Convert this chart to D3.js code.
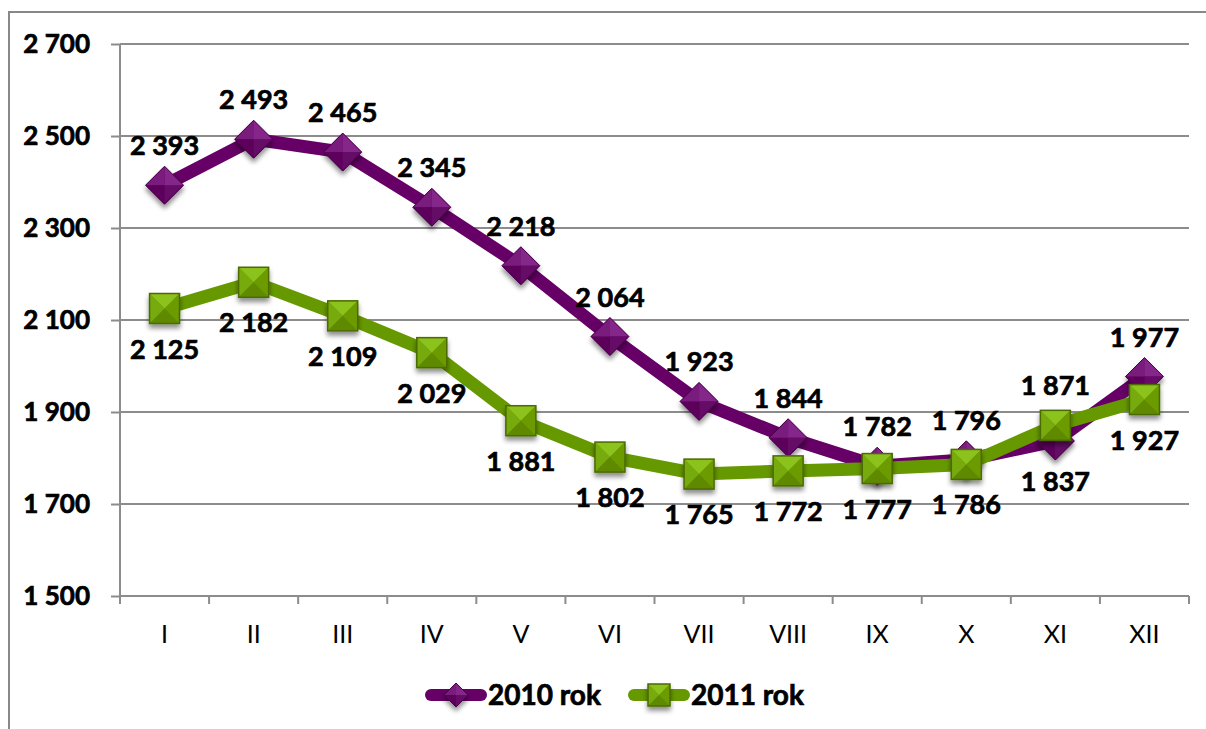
<!DOCTYPE html>
<html><head><meta charset="utf-8">
<script src="https://cdn.jsdelivr.net/npm/d3@7"></script>
<style>
html,body{margin:0;padding:0;background:#fff;}
svg text{font-family:Lato,"Open Sans",sans-serif;}
</style></head>
<body>
<svg id="c" width="1206" height="729"></svg>
<script>
const months = ["I","II","III","IV","V","VI","VII","VIII","IX","X","XI","XII"];
const values2010 = [2393,2493,2465,2345,2218,2064,1923,1844,1782,1796,1837,1977];
const values2011 = [2125,2182,2109,2029,1881,1802,1765,1772,1777,1786,1871,1927];
const labelPos2010 = ["above","above","above","above","above","above","above","above","above","above","below","above"];
const labelPos2011 = ["below","below","below","below","below","below","below","below","below","below","above","below"];
const yTicks = [1500,1700,1900,2100,2300,2500,2700];
const seriesNames = ["2010 rok","2011 rok"];

const svg = d3.select("#c");
const fmt = v => d3.format(",")(v).replace(/,/g," ");

const x = d3.scaleBand().domain(months).range([120,1189]);
const y = d3.scaleLinear().domain([1500,2700]).range([596,44]);

// defs
const defs = svg.append("defs");
const sh = defs.append("filter").attr("id","shadow").attr("x","-50%").attr("y","-50%").attr("width","200%").attr("height","200%");
sh.append("feGaussianBlur").attr("in","SourceAlpha").attr("stdDeviation",2.5);
sh.append("feOffset").attr("dx",0).attr("dy",4).attr("result","b");
sh.append("feComponentTransfer").append("feFuncA").attr("type","linear").attr("slope",0.45);
const mg = sh.append("feMerge"); mg.append("feMergeNode"); mg.append("feMergeNode").attr("in","SourceGraphic");

// outer frame
svg.append("path").attr("d","M9,729 L9,12 L1206,12").attr("fill","none").attr("stroke","#888").attr("stroke-width",2);

// gridlines
svg.append("g").selectAll("line").data(yTicks.slice(1)).join("line")
  .attr("x1",120).attr("x2",1189).attr("y1",d=>y(d)).attr("y2",d=>y(d))
  .attr("stroke","#8c8c8c").attr("stroke-width",2);

const boldText = sel => sel.attr("font-weight","bold").attr("fill","#000")
  .attr("stroke","#000").attr("stroke-width",0.7).attr("paint-order","stroke");

// y axis
const yAxis = svg.append("g").attr("transform","translate(120,0)")
  .call(d3.axisLeft(y).tickValues(yTicks).tickSize(9).tickPadding(21).tickFormat(fmt));
yAxis.select(".domain").attr("stroke","#8c8c8c").attr("stroke-width",2).attr("d","M0,44V604");
yAxis.selectAll(".tick line").attr("stroke","#8c8c8c").attr("stroke-width",2);
yAxis.selectAll("text").attr("font-size",26).attr("font-family","Lato").call(boldText);

// x axis
const xAxis = svg.append("g").attr("transform","translate(0,596)")
  .call(d3.axisBottom(x).tickSize(0).tickPadding(29));
xAxis.select(".domain").attr("stroke","#8c8c8c").attr("stroke-width",2).attr("d","M120,0H1189");
xAxis.selectAll("text").attr("font-size",25).attr("fill","#000").attr("font-family","Lato");
// band edge ticks
const edges = months.map(m=>x(m)).concat([x.range()[1]]);
svg.append("g").selectAll("line").data(edges).join("line")
  .attr("x1",d=>d).attr("x2",d=>d).attr("y1",596).attr("y2",604)
  .attr("stroke","#8c8c8c").attr("stroke-width",2);

const cx = m => x(m)+x.bandwidth()/2;
const line = d3.line().x(d=>cx(d.m)).y(d=>y(d.v));

const s2010 = months.map((m,i)=>({m, v:values2010[i], pos:labelPos2010[i]}));
const s2011 = months.map((m,i)=>({m, v:values2011[i], pos:labelPos2011[i]}));

function diamond(g, px, py, r){
  const gg = g.append("g").attr("transform",`translate(${px},${py})`).attr("filter","url(#shadow)");
  gg.append("path").attr("d",`M0,${-r}L${r},0L0,${r}L${-r},0Z`).attr("fill","#6d0f6d");
  gg.append("path").attr("d",`M0,${-r}L${r},0L0,0Z`).attr("fill","#85288a");
  gg.append("path").attr("d",`M0,${-r}L${-r},0L0,0Z`).attr("fill","#7a1c7e");
  gg.append("path").attr("d",`M0,${r}L${-r},0L0,0Z`).attr("fill","#5c005c");
  gg.append("path").attr("d",`M0,${r}L${r},0L0,0Z`).attr("fill","#650766");
  gg.append("path").attr("d",`M0,${-r}L${r},0L0,${r}L${-r},0Z`).attr("fill","none").attr("stroke","#4a004a").attr("stroke-width",1);
}
function square(g, px, py, h){
  const gg = g.append("g").attr("transform",`translate(${px},${py})`).attr("filter","url(#shadow)");
  gg.append("rect").attr("x",-h).attr("y",-h).attr("width",2*h).attr("height",2*h).attr("fill","#6f9f08");
  gg.append("path").attr("d",`M${-h},${-h}L${h},${-h}L0,0Z`).attr("fill","#8cc21c");
  gg.append("path").attr("d",`M${-h},${-h}L${-h},${h}L0,0Z`).attr("fill","#77aa0c");
  gg.append("path").attr("d",`M${h},${-h}L${h},${h}L0,0Z`).attr("fill","#6c9b06");
  gg.append("path").attr("d",`M${-h},${h}L${h},${h}L0,0Z`).attr("fill","#5f8a00");
  gg.append("rect").attr("x",-h).attr("y",-h).attr("width",2*h).attr("height",2*h).attr("fill","none").attr("stroke","#4b6a00").attr("stroke-width",1.5);
}

// lines
svg.append("path").datum(s2010).attr("d",line).attr("fill","none").attr("stroke","#660066").attr("stroke-width",13).attr("stroke-linejoin","round");
const gm10 = svg.append("g");
s2010.forEach(d=>diamond(gm10, cx(d.m), y(d.v), 19));
svg.append("path").datum(s2011).attr("d",line).attr("fill","none").attr("stroke","#669900").attr("stroke-width",13).attr("stroke-linejoin","round");
const gm11 = svg.append("g");
s2011.forEach(d=>square(gm11, cx(d.m), y(d.v), 15));

// labels
function labels(data){
  svg.append("g").selectAll("text").data(data).join("text")
    .attr("x",d=>cx(d.m))
    .attr("y",d=>y(d.v) + (d.pos==="above" ? -30 : 50))
    .attr("text-anchor","middle").attr("font-size",27)
    .call(boldText)
    .text(d=>fmt(d.v));
}
labels(s2010);
labels(s2011);

// legend
const lg = svg.append("g");
const items = [{name:seriesNames[0], x:425, color:"#660066", type:"d"},{name:seriesNames[1], x:628, color:"#669900", type:"s"}];
items.forEach(it=>{
  lg.append("line").attr("x1",it.x+6).attr("x2",it.x+56).attr("y1",695).attr("y2",695)
    .attr("stroke",it.color).attr("stroke-width",12).attr("stroke-linecap","round");
  if(it.type==="d") diamond(lg, it.x+31, 695, 12); else square(lg, it.x+31, 695, 11);
  lg.append("text").attr("x",it.x+63).attr("y",705).attr("font-size",28).call(boldText).text(it.name);
});
</script>
</body></html>
